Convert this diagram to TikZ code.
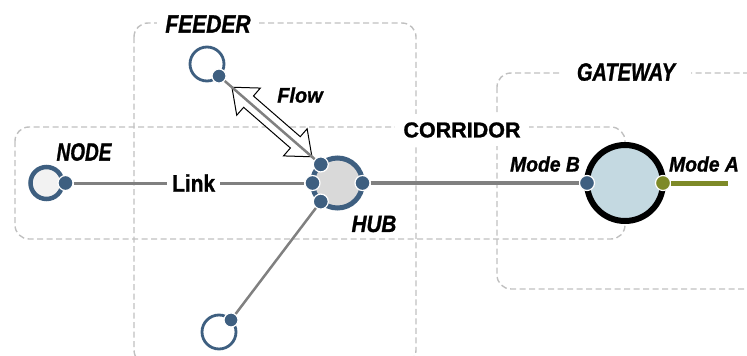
\documentclass[tikz,border=0pt]{standalone}
\usepackage{fontspec}
\setmainfont{Liberation Sans}[BoldFeatures={FakeBold=1.2}, BoldItalicFeatures={FakeBold=1.2}]
\usepackage{graphicx}
\usetikzlibrary{calc}
\definecolor{portblue}{HTML}{3E5F80}
\definecolor{boxgray}{HTML}{C0C0C0}
\definecolor{linegray}{HTML}{808080}
\definecolor{olivegreen}{HTML}{7E8A28}
\definecolor{hubfill}{HTML}{D9D9D9}
\definecolor{nodefill}{HTML}{F2F2F2}
\definecolor{gatefill}{HTML}{C4D9E1}
\newcommand\hsq[2]{\scalebox{#1}[1]{#2}}
\begin{document}
\begin{tikzpicture}[x=1pt,y=-1pt,
  region/.style={draw=boxgray, line width=1.4pt, dash pattern=on 6pt off 3.5pt, rounded corners=14pt},
  bi/.style={font={\bfseries\itshape\fontsize{#1}{#1}\selectfont}},
  bu/.style={font={\bfseries\fontsize{#1}{#1}\selectfont}},
  regionlabel/.style={fill=white, inner sep=8pt},
  ring/.style={circle, inner sep=0pt, outer sep=0pt},
  port/.style={circle, fill=portblue, draw=white, line width=1.2pt, minimum size=15pt, inner sep=0pt},
  conn/.style={draw=linegray, line width=#1},
  flowarrow/.style={draw=black, fill=white, line width=1pt, line join=miter}
]
\useasboundingbox (0,0) rectangle (747,356);
\clip (0,0) rectangle (747,356);

% regions
\draw[region] (15,127) rectangle (625,239);
\draw[region] (134,23) rectangle (416,364);
\draw[region] (497,73) rectangle (770,289);

% main circles
\node[ring, draw=portblue, line width=4.5pt, fill=nodefill, minimum size=32pt] (nd) at (46.5,183) {};
\node[ring, draw=portblue, line width=2.8pt, fill=white, minimum size=34pt] (fd) at (207,64) {};
\node[ring, draw=portblue, line width=2.8pt, fill=white, minimum size=34pt] (bt) at (219,332) {};
\node[ring, draw=portblue, line width=5pt, fill=hubfill, minimum size=50pt] (hub) at (337.5,183) {};
\node[ring, draw=black, line width=6pt, fill=gatefill, minimum size=76pt] (gw) at (625,183) {};

% ports
\node[port] (np) at ($(nd.center)+(19,0)$) {};
\node[port, minimum size=14pt] (fp) at (fd.-45) {};
\node[port, minimum size=14pt] (bp) at (bt.45) {};
\node[port] (hl) at (hub.180) {};
\node[port] (hr) at (hub.0) {};
\node[port] (ht) at (hub.132) {};
\node[port] (hb) at (hub.228) {};
\node[port] (gb) at (gw.180) {};
\node[port, fill=olivegreen] (ga) at (gw.0) {};
\coordinate (oe) at (728,183);

% flow arrow
\begin{scope}[shift={($(fp)!0.52!(ht)$)}, rotate=-41]
  \draw[flowarrow] (-53,0) -- (-31,18) -- (-31,7.5) -- (31,7.5) -- (31,18) -- (53,0)
    -- (31,-18) -- (31,-7.5) -- (-31,-7.5) -- (-31,-18) -- cycle;
\end{scope}

% connectors
\draw[conn=3pt] (np) -- (hl) node[pos=0.52, fill=white, inner xsep=5pt, inner ysep=1pt, bu=24, text=black] (llink) {\hsq{0.87}{Link}};
\draw[conn=2.5pt] (fp) -- (ht);
\draw[conn=2.5pt] (hb) -- (bp);
\draw[conn=4.5pt] (hr) -- (gb);
\draw[draw=olivegreen, line width=5pt] (ga) -- (oe);

% labels
\node[regionlabel, bi=25] (lfeeder) at (208,24) {\hsq{0.84}{FEEDER}};
\node[regionlabel, inner xsep=16pt, bi=25] (lgate) at (626,72) {\hsq{0.8}{GATEWAY}};
\node[regionlabel, bu=21.5] (lcorr) at (462,130) {CORRIDOR};
\node[bi=25, inner sep=0pt] (lnode) at (84,152) {\hsq{0.76}{NODE}};
\node[bi=23.5, inner sep=0pt] (lhub) at (374,224) {\hsq{0.88}{HUB}};
\node[bi=21, inner sep=0pt] (lflow) at (300,95) {\hsq{0.95}{Flow}};
\node[bi=21, inner sep=0pt] (lmb) at (545,164) {\hsq{0.92}{Mode B}};
\node[bi=21, inner sep=0pt] (lma) at (704,164) {\hsq{0.92}{Mode A}};
\end{tikzpicture}
\end{document}
